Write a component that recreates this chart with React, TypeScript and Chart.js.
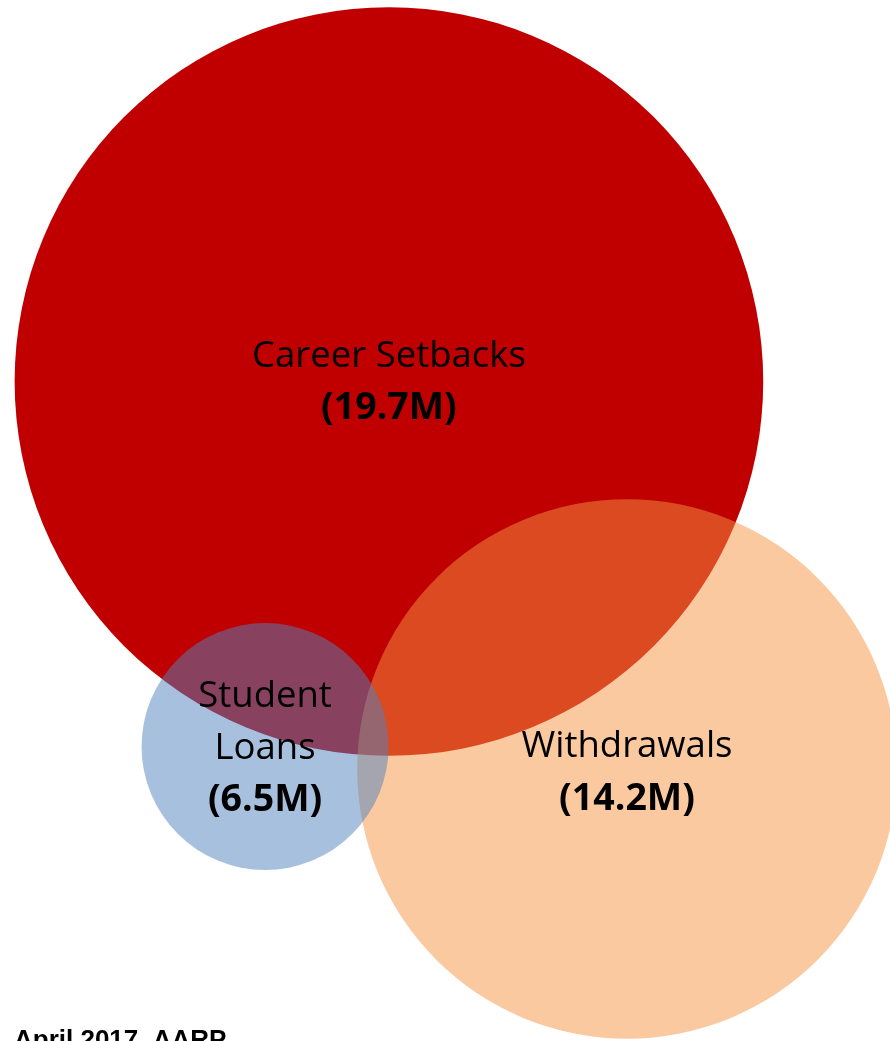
import React, { useEffect, useRef } from "react";
import { Chart, registerables } from "chart.js";

Chart.register(...registerables);

// Data (millions)
const categories = ["Career Setbacks", "Withdrawals", "Student Loans"];
const labelLines = [["Career Setbacks"], ["Withdrawals"], ["Student", "Loans"]];
const values = [19.7, 14.2, 6.5];
const valueLabels = ["(19.7M)", "(14.2M)", "(6.5M)"];
// circle centres in chart units (1 unit = 1M of radius)
const centerX = [20.47, 33.0, 13.95];
const centerY = [20.08, 40.47, 39.29];
const colors = ["rgba(192,0,0,1)", "rgba(245,147,65,0.5)", "rgba(79,129,189,0.5)"];
const drawOrder = [3, 2, 1];
const footer = "April 2017, AARP";

const W = 890;
const H = 1041;
const PX_PER_UNIT = 19;
const X_MAX = W / PX_PER_UNIT;
const Y_MAX = H / PX_PER_UNIT;

const FONT = "'Open Sans', Lato, sans-serif";

const labelPlugin = {
  id: "vennLabels",
  afterDatasetsDraw(chart: any) {
    const ctx = chart.ctx;
    ctx.save();
    ctx.fillStyle = "#000";
    ctx.textAlign = "center";
    ctx.textBaseline = "middle";
    const lineH = 52;
    const offsets = [-25, -22, -50];
    chart.data.datasets.forEach((ds: any, i: number) => {
      const meta = chart.getDatasetMeta(i);
      const pt = meta.data[0];
      if (!pt) return;
      let y = pt.y + offsets[i];
      ctx.font = "36.5px " + FONT;
      labelLines[i].forEach((l) => {
        ctx.fillText(l, pt.x, y);
        y += lineH;
      });
      ctx.font = "bold 37.5px " + FONT;
      ctx.fillText(valueLabels[i], pt.x, y);
    });
    ctx.textAlign = "left";
    ctx.textBaseline = "alphabetic";
    ctx.font = "bold 26px 'Liberation Sans', Arial, sans-serif";
    ctx.fillText(footer, 14, 1048);
    ctx.restore();
  },
};

export default function App() {
  const ref = useRef<HTMLCanvasElement | null>(null);
  useEffect(() => {
    if (!ref.current) return;
    const radiusFor = (c: any) => {
      const v = c.raw && c.raw.v;
      if (v == null) return 0;
      const xo = c.chart.options.scales.x;
      return (v * c.chart.width) / (xo.max - xo.min);
    };
    const chart = new Chart(ref.current, {
      type: "bubble",
      data: {
        datasets: categories.map((name, i) => ({
          label: name,
          order: drawOrder[i],
          data: [{ x: centerX[i], y: centerY[i], v: values[i] }],
          backgroundColor: colors[i],
          hoverBackgroundColor: colors[i],
          borderWidth: 0,
          hoverBorderWidth: 0,
          radius: radiusFor,
          hoverRadius: 0,
          clip: false,
        })),
      } as any,
      options: {
        animation: false,
        responsive: false,
        devicePixelRatio: 1,
        events: [],
        layout: { padding: 0, autoPadding: false },
        plugins: { legend: { display: false }, tooltip: { enabled: false } },
        scales: {
          x: { type: "linear", display: false, min: 0, max: X_MAX },
          y: { type: "linear", display: false, reverse: true, min: 0, max: Y_MAX },
        },
      } as any,
      plugins: [labelPlugin],
    });
    return () => chart.destroy();
  }, []);
  return (
    <div style={{ position: "fixed", left: 0, top: 0, width: W, height: H, background: "#fff" }}>
      <canvas ref={ref} width={W} height={H} style={{ display: "block" }} />
    </div>
  );
}
